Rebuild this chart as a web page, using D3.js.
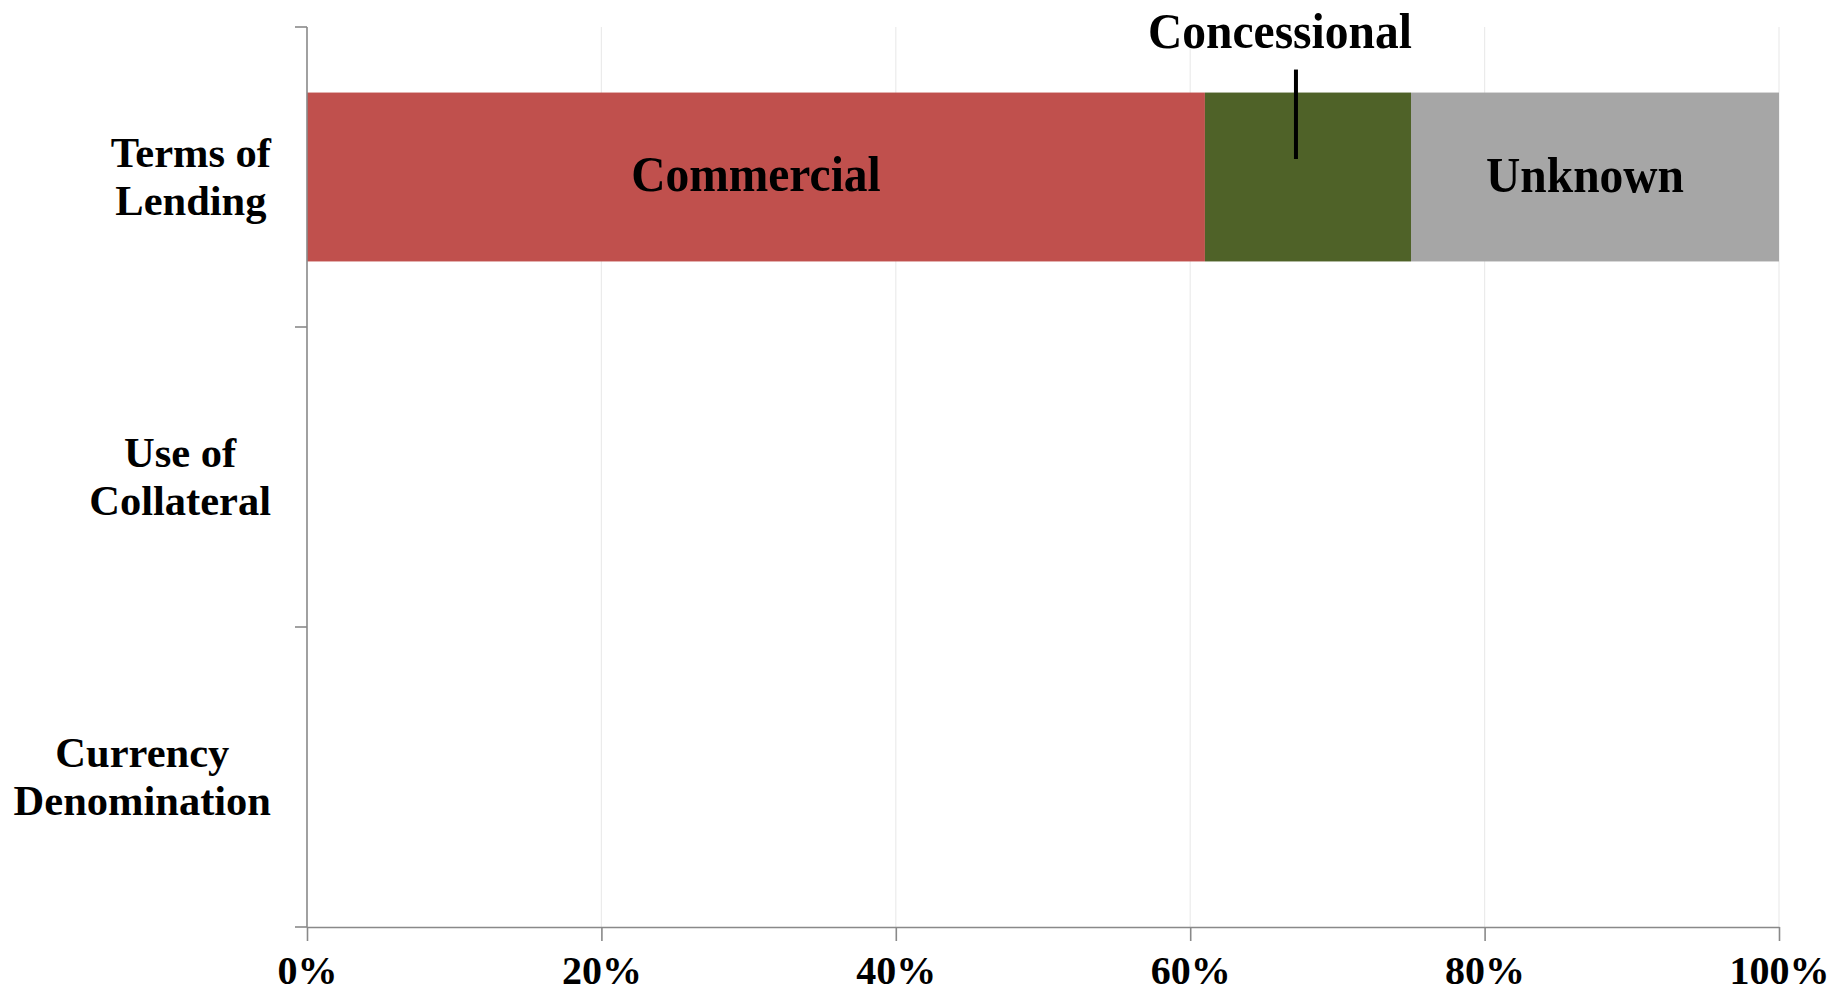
<!DOCTYPE html>
<html>
<head>
<meta charset="utf-8">
<script src="https://cdn.jsdelivr.net/npm/d3@7"></script>
<style>
  html, body { margin: 0; padding: 0; background: #fff; }
  svg { display: block; }
  text { font-family: 'Liberation Serif', 'Times New Roman', serif; font-weight: bold; fill: #000; }
</style>
</head>
<body>
<svg></svg>
<script>
const width = 1836
const height = 993

// Data
const categories = [['Terms of', 'Lending'], ['Use of', 'Collateral'], ['Currency', 'Denomination']]
const seriesNames = ['Commercial', 'Concessional', 'Unknown']
const commercial = [0.61, null, null]
const concessional = [0.14, null, null]
const unknown = [0.25, null, null]
const xTicks = [0, 0.2, 0.4, 0.6, 0.8, 1]
const colors = ['#C0504D', '#4F6228', '#A6A6A6']

const plot = { left: 307, right: 1779, top: 27, bottom: 927 }

const svg = d3.select('svg')
  .attr('width', width)
  .attr('height', height)

const keys = categories.map((c) => c.join(' '))

const x = d3.scaleLinear().domain([0, 1]).range([plot.left, plot.right])
const y = d3.scaleBand()
  .domain(keys)
  .range([plot.top, plot.bottom])
  .paddingInner(0.437)
  .paddingOuter(0.2185)

// Gridlines
svg.append('g')
  .selectAll('line')
  .data(xTicks.filter((d) => d > 0))
  .enter().append('line')
  .attr('x1', (d) => x(d))
  .attr('x2', (d) => x(d))
  .attr('y1', plot.top)
  .attr('y2', plot.bottom)
  .attr('stroke', '#ebebeb')
  .attr('stroke-width', 1.2)

// Stacked bars
const rows = keys.map((k, i) => ({ key: k, Commercial: commercial[i] || 0, Concessional: concessional[i] || 0, Unknown: unknown[i] || 0 }))
const stacked = d3.stack().keys(seriesNames)(rows)

const layers = svg.append('g')
  .selectAll('g')
  .data(stacked)
  .enter().append('g')
  .attr('fill', (d, i) => colors[i])

layers.selectAll('rect')
  .data((d) => d.filter((s) => s[1] - s[0] > 0))
  .enter().append('rect')
  .attr('x', (d) => x(d[0]))
  .attr('y', (d) => y(d.data.key))
  .attr('width', (d) => x(d[1]) - x(d[0]))
  .attr('height', y.bandwidth())

// Axes
const boundaries = keys.map((k) => y(k) - y.step() * y.paddingInner() / 2).concat([plot.bottom])

const yAxis = svg.append('g')
yAxis.append('line')
  .attr('x1', plot.left).attr('x2', plot.left)
  .attr('y1', plot.top).attr('y2', plot.bottom)
  .attr('stroke', '#898989').attr('stroke-width', 1.6)
yAxis.selectAll('.tick')
  .data(boundaries)
  .enter().append('line')
  .attr('x1', plot.left - 12).attr('x2', plot.left)
  .attr('y1', (d) => d).attr('y2', (d) => d)
  .attr('stroke', '#898989').attr('stroke-width', 1.6)

const xAxis = svg.append('g')
  .attr('transform', `translate(0, ${plot.bottom})`)
  .call(d3.axisBottom(x).tickValues(xTicks).tickFormat(d3.format('.0%')).tickSize(14).tickSizeOuter(0))
xAxis.select('.domain').attr('stroke', '#898989').attr('stroke-width', 1.6)
xAxis.selectAll('.tick line').attr('stroke', '#898989').attr('stroke-width', 1.6)
xAxis.selectAll('.tick text')
  .attr('y', 57)
  .attr('dy', 0)
  .style('font-family', "'Liberation Serif', 'Times New Roman', serif")
  .style('font-weight', 'bold')
  .style('font-size', '40px')
  .attr('fill', '#000')

// Category labels: lines centred within a right-aligned block
const labelRight = 271
const measure = svg.append('text').style('font-size', '42.5px')
categories.forEach((lines, i) => {
  const maxW = d3.max(lines, (l) => { measure.text(l); return measure.node().getComputedTextLength() })
  const cx = labelRight - maxW / 2
  const cy = y(keys[i]) + y.bandwidth() / 2
  const t = svg.append('text')
    .attr('text-anchor', 'middle')
    .style('font-size', '42.5px')
  lines.forEach((l, j) => {
    t.append('tspan').attr('x', cx).attr('y', cy - 10 + j * 48).text(l)
  })
})
measure.remove()

// Segment labels
const first = stacked.map((s) => s[0])
const bandMid = y(keys[0]) + y.bandwidth() / 2

function segLabel(name, cx, baseline) {
  svg.append('text')
    .attr('text-anchor', 'middle')
    .attr('transform', `translate(${cx}, ${baseline}) scale(1, 1.08)`)
    .style('font-size', '47.5px')
    .text(name)
}

segLabel('Commercial', x((first[0][0] + first[0][1]) / 2), bandMid + 14)
segLabel('Unknown', x((first[2][0] + first[2][1]) / 2) - 10, bandMid + 15)

// Concessional label with leader line
const concX = x((first[1][0] + first[1][1]) / 2) - 12
svg.append('line')
  .attr('x1', concX).attr('x2', concX)
  .attr('y1', y(keys[0]) - 23).attr('y2', bandMid - 18)
  .attr('stroke', '#000').attr('stroke-width', 4)
segLabel('Concessional', concX - 16, 48)
</script>
</body>
</html>
